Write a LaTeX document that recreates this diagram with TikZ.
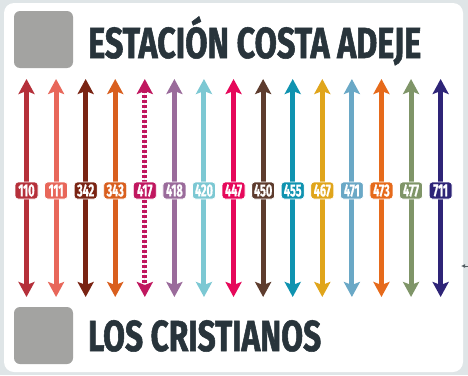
\documentclass[tikz,border=0pt]{standalone}
\usepackage{fontspec}
\usetikzlibrary{arrows.meta}
\newfontfamily\condfont[FakeStretch=0.72,FakeBold=1.2]{Fira Sans}
\newfontfamily\numfont[FakeStretch=0.62,FakeBold=0.8]{Fira Sans}
\definecolor{pagebg}{HTML}{DFE5E7}
\definecolor{titletext}{HTML}{28343B}
\definecolor{stopgray}{HTML}{A3A3A1}
\definecolor{c110}{HTML}{B5303A}
\definecolor{c111}{HTML}{E8675A}
\definecolor{c342}{HTML}{7A2413}
\definecolor{c343}{HTML}{D95F1E}
\definecolor{c417}{HTML}{C0175F}
\definecolor{c418}{HTML}{9A6B9B}
\definecolor{c420}{HTML}{7CC8D3}
\definecolor{c447}{HTML}{E6085A}
\definecolor{c450}{HTML}{5E3C2E}
\definecolor{c455}{HTML}{0F93B0}
\definecolor{c467}{HTML}{E0A51B}
\definecolor{c471}{HTML}{6AA8C6}
\definecolor{c473}{HTML}{E66A1B}
\definecolor{c477}{HTML}{7F9568}
\definecolor{c711}{HTML}{2E2477}
\tikzset{>={Stealth[length=15pt,width=16pt,inset=3pt]}}
\tikzset{route/.style = {line width=5pt, <->}}
\tikzset{solidroute/.style = {route}}
\tikzset{dashroute/.style = {route, dash pattern=on 3pt off 2pt}}
\tikzset{linebox/.style = {fill=#1, draw=white, line width=0.8pt, rounded corners=3pt,
  text=white, inner sep=0pt, minimum width=23pt, minimum height=17pt,
  font=\numfont\bfseries\fontsize{17.5}{17.5}\selectfont}}
\tikzset{stopsq/.style = {fill=stopgray, rounded corners=6pt, minimum width=59pt, minimum height=57pt, inner sep=0pt}}
\tikzset{stoptext/.style = {text=titletext, inner sep=0pt, anchor=base west,
  font=\condfont\bfseries\fontsize{43.5}{43.5}\selectfont}}

\begin{document}
\begin{tikzpicture}[x=1pt,y=-1pt]
\useasboundingbox (0,0) rectangle (468,375);
\fill[pagebg] (0,0) rectangle (468,375);
\fill[white, rounded corners=10pt] (4,3) rectangle (463,372);
% stops
\node (topsq) [stopsq] at (43.5,39.5) {};
\node (botsq) [stopsq] at (43.5,335.5) {};
\node (topname) [stoptext] at (88,58) {\resizebox{333pt}{\height}{ESTACIÓN COSTA ADEJE}};
\node (botname) [stoptext] at (88,351) {\resizebox{233pt}{\height}{LOS CRISTIANOS}};
% lines
\foreach \n/\st [count=\i from 0] in {110/solidroute,111/solidroute,342/solidroute,343/solidroute,
    417/dashroute,418/solidroute,420/solidroute,447/solidroute,450/solidroute,455/solidroute,
    467/solidroute,471/solidroute,473/solidroute,477/solidroute,711/solidroute}{
  \pgfmathsetmacro\x{26.5+29.58*\i}
  \coordinate (t\n) at (\x,79);
  \coordinate (b\n) at (\x,297);
  \draw[\st, draw=c\n, fill=c\n] (t\n) -- (b\n);
  \node (l\n) [linebox=c\n] at (\x,190.5) {\n};
}
% pointer at right edge
\coordinate (ptr) at (468,266);
\coordinate (ptrtip) at (461,266);
\draw[line width=1pt, draw=titletext!80, -{Latex[length=4pt,width=4pt]}] (ptr) -- (ptrtip);
\end{tikzpicture}
\end{document}
